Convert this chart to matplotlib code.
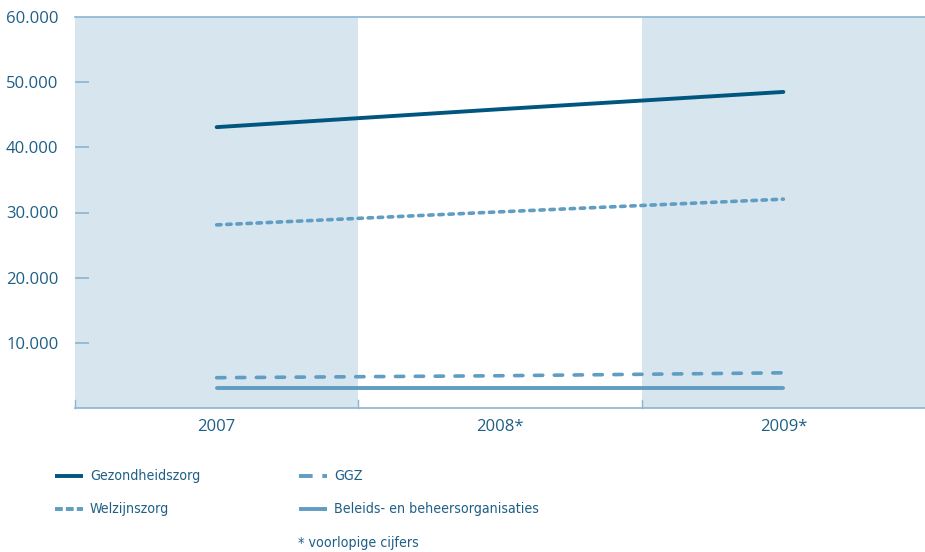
import matplotlib
matplotlib.use("Agg")
import matplotlib.pyplot as plt
from matplotlib.lines import Line2D
from matplotlib import font_manager

years = ["2007", "2008*", "2009*"]
gezondheidszorg = [43100, 45850, 48500]
welzijnszorg = [28100, 30100, 32050]
ggz = [4650, 4950, 5400]
beleids = [3050, 3050, 3050]
yticks = [10000, 20000, 30000, 40000, 50000, 60000]
ytick_labels = ["10.000", "20.000", "30.000", "40.000", "50.000", "60.000"]

dark = "#00567F"
light = "#5F9DC2"
band = "#D7E5EF"
txt = "#1F5F86"
axc = "#8DB4D0"

plt.rcParams['font.family'] = ['Open Sans', 'DejaVu Sans']

# pick an upright condensed sans face if one is installed
narrow = None
for f in font_manager.fontManager.ttflist:
    cond = f.stretch in ('condensed', 'semi-condensed') or 'Narrow' in f.name or 'Condensed' in f.name
    if cond and f.style == 'normal' and 'Mono' not in f.name and 'Serif' not in f.name \
            and f.weight in (400, 'normal', 'regular'):
        narrow = f
        break
if narrow is not None:
    legend_kw = dict(fontproperties=font_manager.FontProperties(fname=narrow.fname, size=10.2))
else:
    legend_kw = dict(family=['Lato', 'DejaVu Sans'], fontsize=10)

fig = plt.figure(figsize=(9.25, 5.52), dpi=100)
ax = fig.add_axes([75/925, 1-408/552, 1-75/925, (408-17)/552])

x = list(range(len(years)))
ax.set_xlim(-0.5, len(years) - 0.5)
ax.set_ylim(0, 60000)

for i in range(len(years)):
    if i % 2 == 0:
        ax.axvspan(i - 0.5, i + 0.5, color=band, lw=0, zorder=0)

series = [
    ("Gezondheidszorg", gezondheidszorg, dict(color=dark, lw=2.8, ls='-')),
    ("Welzijnszorg", welzijnszorg, dict(color=light, lw=2.6, ls=(0, (1.2, 1.6)))),
    ("GGZ", ggz, dict(color=light, lw=2.6, ls=(0, (2.3, 3.2)))),
    ("Beleids- en beheersorganisaties", beleids, dict(color=light, lw=2.8, ls='-')),
]
for name, vals, st in series:
    ax.plot(x, vals, solid_capstyle='round', dash_capstyle='round', zorder=3, **st)

for s in ['left', 'right']:
    ax.spines[s].set_visible(False)
ax.spines['top'].set_color(axc)
ax.spines['bottom'].set_color(axc)
ax.spines['top'].set_linewidth(1.2)
ax.spines['bottom'].set_linewidth(1.2)

ax.set_yticks(yticks)
ax.set_yticklabels(ytick_labels)
ax.tick_params(axis='y', direction='in', length=10, width=1.2, color=axc,
               labelcolor=txt, labelsize=12, pad=12)
ax.yaxis.get_major_ticks()[-1].tick1line.set_visible(False)

ax.set_xticks(x)
ax.set_xticklabels(years)
ax.tick_params(axis='x', length=0, labelcolor=txt, labelsize=12, pad=8)
for b in [0.5, 1.5]:
    ax.plot([b, b], [0, 1200], color=axc, lw=1.0, zorder=4, clip_on=False)
ax.plot([-0.5, -0.5], [0, 1200], color=axc, lw=1.0, zorder=4, clip_on=False)

# legend
leg_styles = [
    dict(color=dark, lw=2.8, ls='-'),
    dict(color=light, lw=2.8, ls=(0, (2.0, 0.8))),
    dict(color=light, lw=2.8, ls=(0, (3.5, 2.5))),
    dict(color=light, lw=2.8, ls='-'),
]
pos = [(55, 476), (55, 509), (299, 476), (299, 509)]
for (name, vals, st), lst, (lx, ly) in zip(series, leg_styles, pos):
    yy = 1 - ly/552
    fig.add_artist(Line2D([lx/925, (lx+28)/925], [yy, yy], transform=fig.transFigure,
                          solid_capstyle='butt', dash_capstyle='butt', **lst))
    fig.text((lx+35)/925, yy, name, color=txt, va='center', ha='left', **legend_kw)
fig.text(298/925, 1-543/552, "* voorlopige cijfers", color=txt,
         va='center', ha='left', **legend_kw)

fig.savefig("out.png", dpi=100)
